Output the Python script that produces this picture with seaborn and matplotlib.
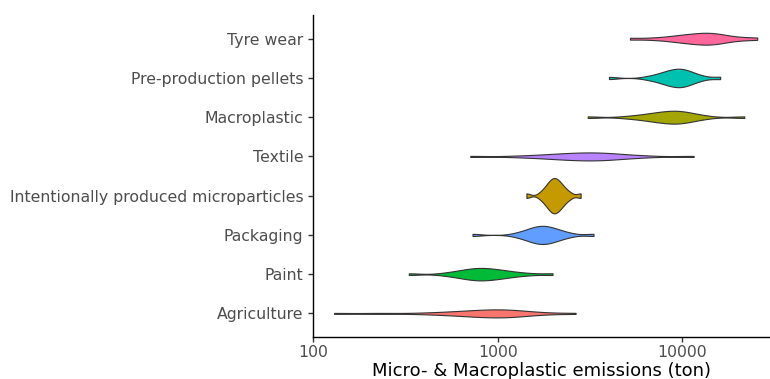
import matplotlib

matplotlib.use("Agg")

import matplotlib.pyplot as plt
import matplotlib.ticker as mticker
import pandas as pd
import seaborn as sns

PLOT_PARAMS = {
    "font.family": ["DejaVu Sans"],
    "axes.linewidth": 1.0,
    "xtick.major.size": 3.5,
    "ytick.major.size": 3.5,
    "xtick.major.pad": 2.5,
    "xtick.color": "#333333",
    "ytick.color": "#333333",
    "xtick.labelcolor": "#4D4D4D",
    "ytick.labelcolor": "#4D4D4D",
    "xtick.labelsize": 11.3,
    "ytick.labelsize": 11.3,
    "axes.labelsize": 13,
}

# Source categories, top to bottom as drawn
SOURCES = [
    "Tyre wear",
    "Pre-production pellets",
    "Macroplastic",
    "Textile",
    "Intentionally produced microparticles",
    "Packaging",
    "Paint",
    "Agriculture",
]

COLORS = ["#FF6699", "#00C0AF", "#A3A500", "#B983FF", "#C49A00", "#619CFF", "#00BA38", "#F8766D"]

# Emission estimates (ton), per source
TYRE_WEAR = [5200, 6880, 8190, 9000, 9690, 10300, 10900, 11400, 12000, 12500, 13100,
             13600, 14100, 14600, 15300, 16000, 17000, 18400, 21100, 25400]
PELLETS = [4000, 6470, 7180, 7600, 7940, 8250, 8510, 8770, 9020, 9270, 9510,
           9720, 9960, 10200, 10500, 10800, 11220, 11800, 12800, 16000]
MACROPLASTIC = [3070, 4980, 5830, 6340, 6780, 7170, 7520, 7860, 8200, 8540, 8870,
                9150, 9460, 9790, 10200, 10610, 11180, 11900, 13480, 21600]
TEXTILE = [710, 1270, 1620, 1840, 2050, 2230, 2400, 2570, 2750, 2930, 3110,
           3290, 3480, 3690, 3930, 4240, 4630, 5180, 6390, 11500]
MICROPARTICLES = [1430, 1710, 1790, 1840, 1880, 1910, 1940, 1970, 1990, 2020, 2050,
                  2070, 2100, 2140, 2170, 2210, 2260, 2330, 2450, 2810]
PACKAGING = [730, 1250, 1380, 1445, 1500, 1560, 1600, 1650, 1690, 1730, 1770,
             1820, 1870, 1920, 1980, 2050, 2140, 2250, 2480, 3300]
PAINT = [330, 520, 590, 630, 670, 700, 730, 760, 790, 815, 850,
         880, 920, 960, 1010, 1070, 1140, 1240, 1450, 1980]
AGRICULTURE = [130, 230, 390, 500, 570, 635, 690, 750, 800, 850, 910, 960,
               1010, 1060, 1110, 1170, 1240, 1340, 1470, 1750, 2640]

X_TICKS = [100, 1000, 10000]
X_LABEL = "Micro- & Macroplastic emissions (ton)"


def build_frame():
    series = [TYRE_WEAR, PELLETS, MACROPLASTIC, TEXTILE, MICROPARTICLES, PACKAGING, PAINT, AGRICULTURE]
    rows = []
    for source, values in zip(SOURCES, series):
        rows += [{"source": source, "emissions": v} for v in values]
    return pd.DataFrame(rows)


def plot_violins(output_path="out.png"):
    sns.set_style("white")
    plt.rcParams.update(PLOT_PARAMS)

    df = build_frame()

    fig = plt.figure(figsize=(7.7, 3.79), dpi=100)
    ax = fig.add_axes([0.4065, 0.111, 0.5925, 0.849])

    sns.violinplot(
        data=df,
        x="emissions",
        y="source",
        hue="source",
        order=SOURCES,
        hue_order=SOURCES,
        palette=COLORS,
        log_scale=True,
        cut=0,
        bw_adjust=0.6,
        inner=None,
        density_norm="area",
        common_norm=True,
        width=0.9,
        linewidth=0.8,
        linecolor="#333333",
        saturation=1,
        legend=False,
        ax=ax,
    )

    ax.set_xlim(100, 29500)
    ax.set_ylim(len(SOURCES) - 0.4, -0.6)
    ax.xaxis.set_major_locator(mticker.FixedLocator(X_TICKS))
    ax.xaxis.set_major_formatter(mticker.FixedFormatter([str(t) for t in X_TICKS]))
    ax.xaxis.set_minor_locator(mticker.NullLocator())

    ax.set_xlabel(X_LABEL, color="black", labelpad=1)
    ax.set_ylabel("")
    for side in ("top", "right"):
        ax.spines[side].set_visible(False)
    for side in ("left", "bottom"):
        ax.spines[side].set_color("black")
    ax.tick_params(axis="both", which="major", bottom=True, left=True, direction="out", width=1.0)

    fig.savefig(output_path, dpi=100)


if __name__ == "__main__":
    plot_violins()
